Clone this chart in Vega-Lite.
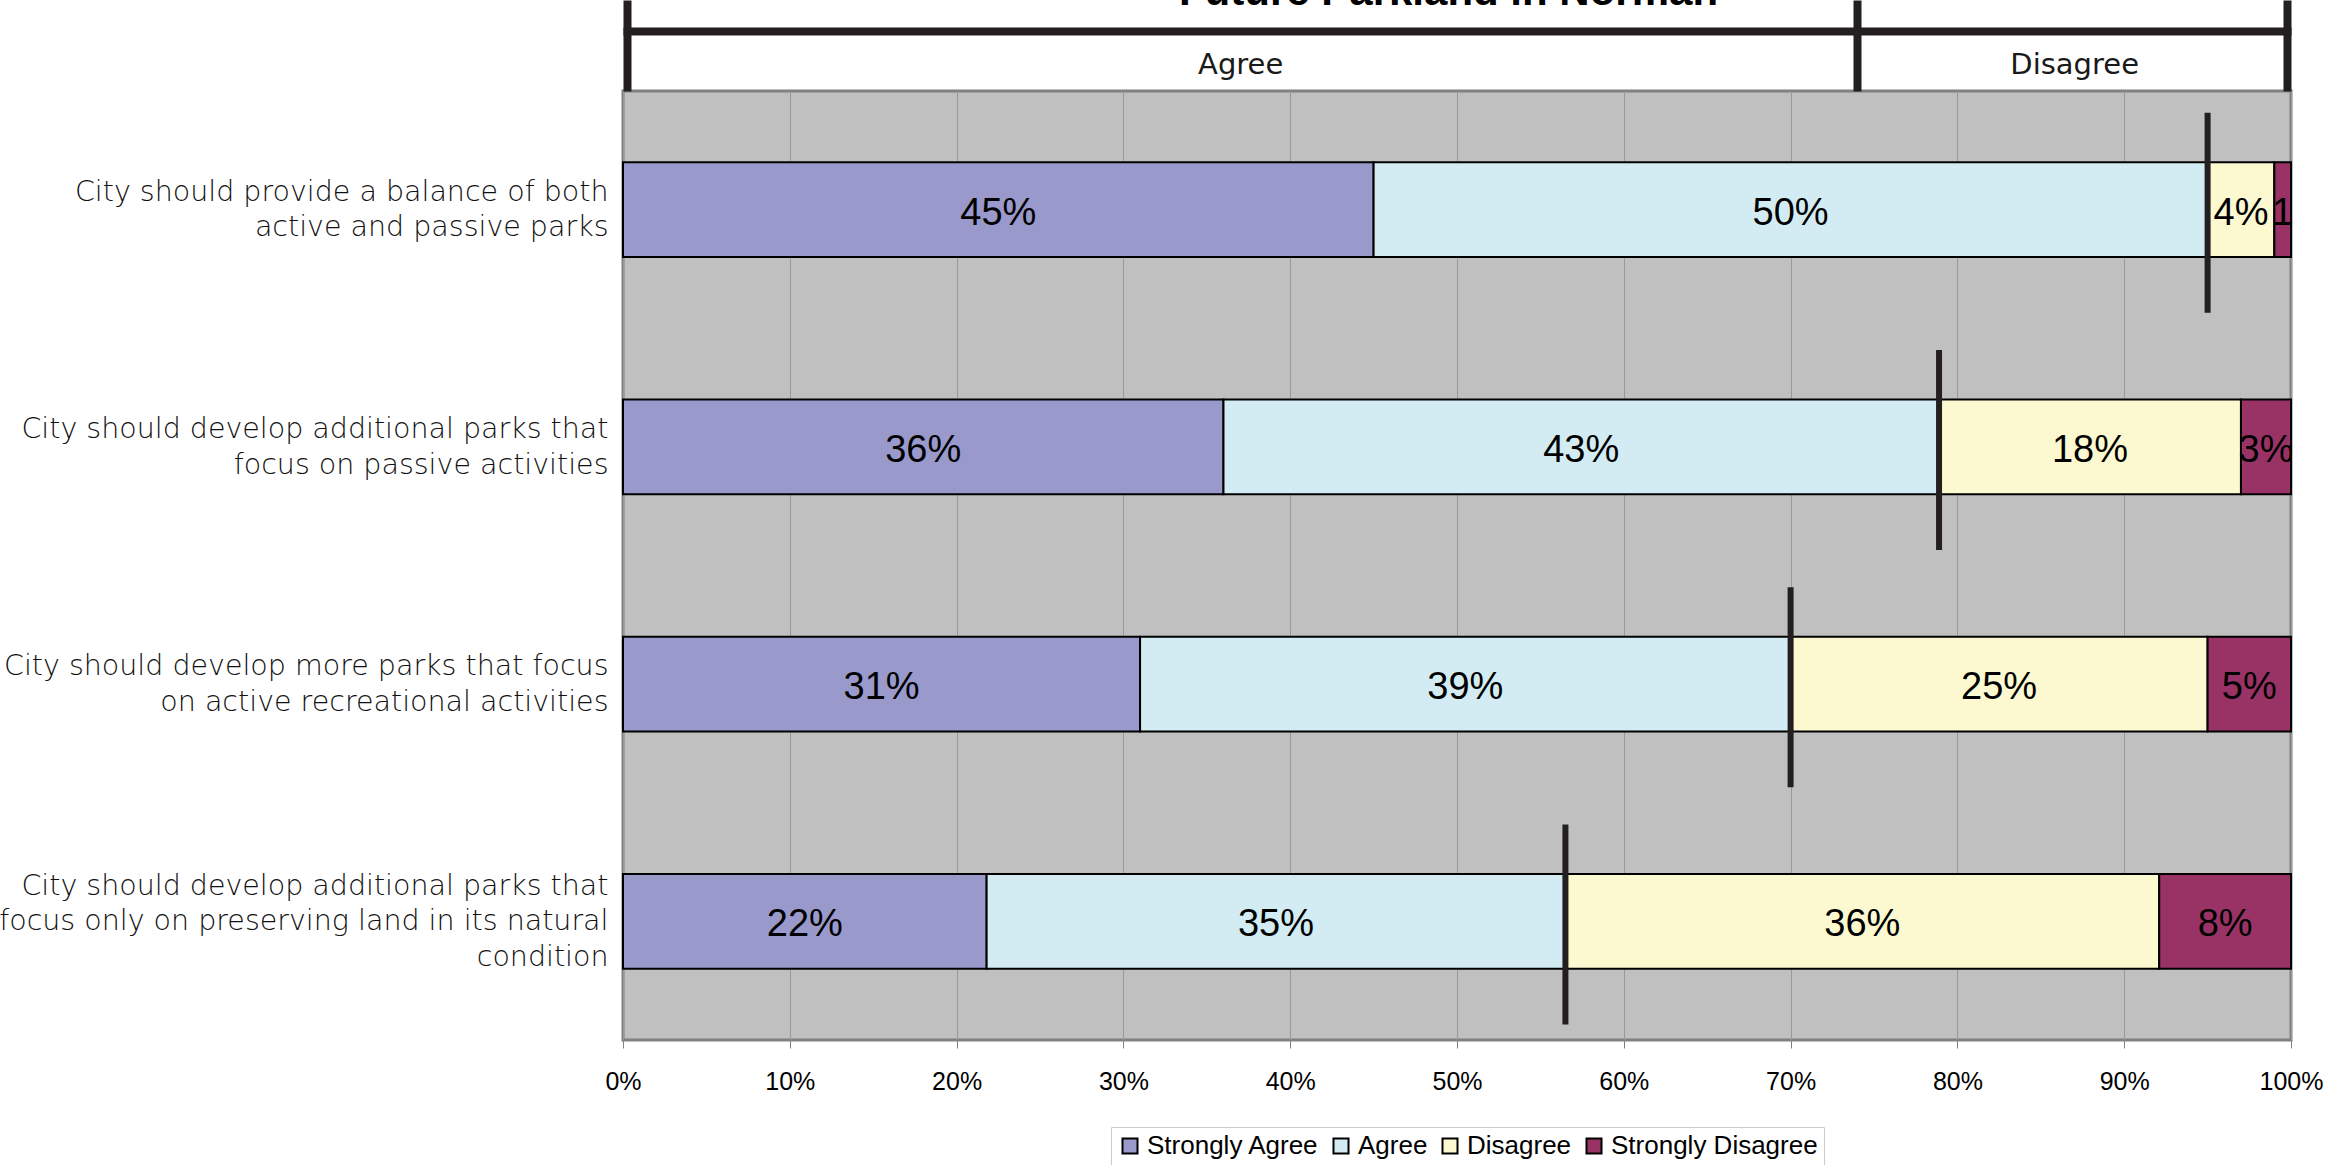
{
  "$schema": "https://vega.github.io/schema/vega-lite/v6.json",
  "autosize": {"type": "none"},
  "width": 1668,
  "height": 949,
  "padding": {"left": 623, "top": 91, "right": 34, "bottom": 125},
  "background": "#FFFFFF",
  "datasets": {
    "responses": [
      {"question": "City should provide a balance of both|active and passive parks", "response": "Strongly Agree", "rank": 1, "value": 45, "label": "45%"},
      {"question": "City should provide a balance of both|active and passive parks", "response": "Agree", "rank": 2, "value": 50, "label": "50%"},
      {"question": "City should provide a balance of both|active and passive parks", "response": "Disagree", "rank": 3, "value": 4, "label": "4%"},
      {"question": "City should provide a balance of both|active and passive parks", "response": "Strongly Disagree", "rank": 4, "value": 1, "label": "1"},
      {"question": "City should develop additional parks that|focus on passive activities", "response": "Strongly Agree", "rank": 1, "value": 36, "label": "36%"},
      {"question": "City should develop additional parks that|focus on passive activities", "response": "Agree", "rank": 2, "value": 42.9, "label": "43%"},
      {"question": "City should develop additional parks that|focus on passive activities", "response": "Disagree", "rank": 3, "value": 18.1, "label": "18%"},
      {"question": "City should develop additional parks that|focus on passive activities", "response": "Strongly Disagree", "rank": 4, "value": 3, "label": "3%"},
      {"question": "City should develop more parks that focus|on active recreational activities", "response": "Strongly Agree", "rank": 1, "value": 31, "label": "31%"},
      {"question": "City should develop more parks that focus|on active recreational activities", "response": "Agree", "rank": 2, "value": 39, "label": "39%"},
      {"question": "City should develop more parks that focus|on active recreational activities", "response": "Disagree", "rank": 3, "value": 25, "label": "25%"},
      {"question": "City should develop more parks that focus|on active recreational activities", "response": "Strongly Disagree", "rank": 4, "value": 5, "label": "5%"},
      {"question": "City should develop additional parks that|focus only on preserving land in its natural|condition", "response": "Strongly Agree", "rank": 1, "value": 21.8, "label": "22%"},
      {"question": "City should develop additional parks that|focus only on preserving land in its natural|condition", "response": "Agree", "rank": 2, "value": 34.7, "label": "35%"},
      {"question": "City should develop additional parks that|focus only on preserving land in its natural|condition", "response": "Disagree", "rank": 3, "value": 35.6, "label": "36%"},
      {"question": "City should develop additional parks that|focus only on preserving land in its natural|condition", "response": "Strongly Disagree", "rank": 4, "value": 7.9, "label": "8%"}
    ],
    "markers": [
      {"question": "City should provide a balance of both|active and passive parks", "agree": 95},
      {"question": "City should develop additional parks that|focus on passive activities", "agree": 78.9},
      {"question": "City should develop more parks that focus|on active recreational activities", "agree": 70},
      {"question": "City should develop additional parks that|focus only on preserving land in its natural|condition", "agree": 56.5}
    ]
  },
  "config": {
    "view": {"fill": "#C0C0C0", "stroke": "#808080", "strokeWidth": 3}
  },
  "resolve": {"axis": {"x": "independent"}},
  "layer": [
    {
      "data": {"name": "responses"},
      "mark": {"type": "bar", "stroke": "#000000", "strokeWidth": 2},
      "encoding": {
        "y": {
          "field": "question", "type": "nominal", "sort": null,
          "scale": {"paddingInner": 0.6, "paddingOuter": 0.3},
          "axis": {"title": null, "domain": false, "ticks": false, "labelExpr": "split(datum.value, '|')", "labelFont": "DejaVu Sans", "labelFontSize": 28.5, "labelFontWeight": 200, "labelColor": "#111111", "labelLineHeight": 35.6, "labelPadding": 15, "labelLimit": 900, "labelAlign": "right", "labelBaseline": "middle",
            "labelOffset": {"condition": {"test": "length(split(datum.value, '|')) === 3", "value": -35.6}, "value": -17.8}}
        },
        "x": {
          "field": "value", "type": "quantitative", "stack": "zero",
          "scale": {"domain": [0, 100], "nice": false},
          "axis": {"orient": "bottom", "title": null, "values": [0, 10, 20, 30, 40, 50, 60, 70, 80, 90, 100], "labelExpr": "datum.value + '%'", "grid": true, "gridColor": "#999999", "gridWidth": 1, "domain": false, "tickColor": "#808080", "tickSize": 8, "tickWidth": 1, "labelFont": "Liberation Sans", "labelFontSize": 25, "labelColor": "#000000", "labelPadding": 33, "labelBaseline": "middle", "labelFlush": false, "labelOverlap": false}
        },
        "color": {
          "field": "response", "type": "nominal",
          "scale": {"domain": ["Strongly Agree", "Agree", "Disagree", "Strongly Disagree"], "range": ["#9999CC", "#D3ECF3", "#FCF9D0", "#993366"]},
          "legend": {"title": null, "orient": "none", "legendX": 488, "legendY": 1036, "direction": "horizontal", "symbolType": "square", "symbolSize": 225, "symbolStrokeColor": "#000000", "symbolStrokeWidth": 2, "symbolOpacity": 1, "labelFont": "Liberation Sans", "labelFontSize": 26, "labelColor": "#000000", "labelOffset": 4, "labelLimit": 400, "columnPadding": 9, "padding": 6, "strokeColor": "#CCCCCC", "fillColor": "#FFFFFF"}
        },
        "order": {"field": "rank", "type": "quantitative"}
      }
    },
    {
      "data": {"name": "responses"},
      "mark": {"type": "text", "font": "Liberation Sans", "fontSize": 38, "color": "#000000", "align": "center", "baseline": "middle", "dy": 4, "clip": true},
      "encoding": {
        "y": {"field": "question", "type": "nominal", "sort": null},
        "x": {
          "field": "value", "type": "quantitative", "stack": "zero", "bandPosition": 0.5,
          "axis": {"orient": "top", "title": null, "values": [0.25, 37, 74, 87, 99.75], "domain": false, "grid": false, "tickSize": 91, "tickWidth": 8, "tickColor": "#231F20", "tickOpacity": {"condition": {"test": "datum.value === 37 || datum.value === 87", "value": 0}, "value": 1}, "labelExpr": "datum.value === 37 ? 'Agree' : (datum.value === 87 ? 'Disagree' : '')", "labelFont": "DejaVu Sans", "labelFontSize": 29, "labelColor": "#1A1A1A", "labelPadding": -64, "labelBaseline": "middle", "labelFlush": false, "labelOverlap": false}
        },
        "order": {"field": "rank", "type": "quantitative"},
        "text": {"field": "label", "type": "nominal"}
      }
    },
    {
      "data": {"name": "markers"},
      "mark": {"type": "tick", "color": "#231F20", "thickness": 6, "size": 200, "opacity": 1, "yOffset": 3},
      "encoding": {
        "y": {"field": "question", "type": "nominal", "sort": null},
        "x": {
          "field": "agree", "type": "quantitative",
          "axis": {"orient": "top", "title": "Future Parkland in Norman", "titleFont": "Liberation Sans", "titleFontSize": 42, "titleFontWeight": "bold", "titleColor": "#000000", "titleBaseline": "alphabetic", "titleAnchor": "middle", "titlePadding": 27, "titleX": 825, "offset": 60, "domain": true, "domainWidth": 8, "domainColor": "#231F20", "ticks": false, "labels": false, "grid": false}
        }
      }
    }
  ]
}
